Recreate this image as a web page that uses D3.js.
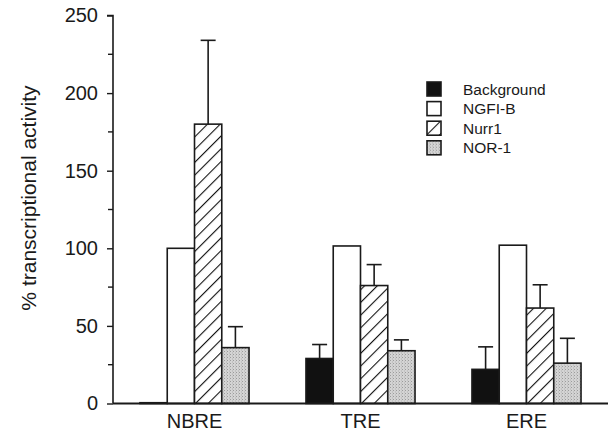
<!DOCTYPE html>
<html>
<head>
<meta charset="utf-8">
<script src="https://cdn.jsdelivr.net/npm/d3@7"></script>
<style>
  body { margin: 0; background: #fff; }
  text { font-family: "Liberation Sans", Arial, sans-serif; fill: #1a1a1a; }
</style>
</head>
<body>
<div id="chart"></div>
<script>
const width = 608;
const height = 434;
const left_margin = 113;

// data
const categories = ["NBRE", "TRE", "ERE"];
const series = ["Background", "NGFI-B", "Nurr1", "NOR-1"];
const background_vals = [0.5, 29, 22];
const background_err = [0, 38, 36.5];
const ngfib_vals = [100, 101.5, 102];
const ngfib_err = [null, null, null];
const nurr1_vals = [180, 76, 61.5];
const nurr1_err = [234, 89.5, 76.5];
const nor1_vals = [36, 34, 26];
const nor1_err = [49.5, 41, 42];
const y_ticks = [0, 50, 100, 150, 200, 250];
const y_minor = [25, 75, 125, 175, 225];

const values = [background_vals, ngfib_vals, nurr1_vals, nor1_vals];
const errors = [background_err, ngfib_err, nurr1_err, nor1_err];
const fills = ["#111", "#fff", "url(#hatch)", "url(#stipple)"];

var svg = d3.select("#chart").append("svg")
    .attr("width", width)
    .attr("height", height);

// patterns for nurr1 and nor-1
var defs = svg.append("defs");
var hatch = defs.append("pattern")
    .attr("id", "hatch")
    .attr("patternUnits", "userSpaceOnUse")
    .attr("width", 9)
    .attr("height", 9)
    .attr("patternTransform", "rotate(45)");
hatch.append("rect").attr("width", 9).attr("height", 9).attr("fill", "#fff");
hatch.append("line")
    .attr("x1", 0).attr("y1", 0).attr("x2", 0).attr("y2", 9)
    .attr("stroke", "#111").attr("stroke-width", 2.2);
var stipple = defs.append("pattern")
    .attr("id", "stipple")
    .attr("patternUnits", "userSpaceOnUse")
    .attr("width", 3)
    .attr("height", 3);
stipple.append("rect").attr("width", 3).attr("height", 3).attr("fill", "#d4d4d4");
stipple.append("rect").attr("x", 0).attr("y", 0).attr("width", 1).attr("height", 1).attr("fill", "#9a9a9a");
stipple.append("rect").attr("x", 2).attr("y", 1.5).attr("width", 1).attr("height", 1).attr("fill", "#b0b0b0");

var y = d3.scaleLinear()
    .domain([0, 250])
    .range([403.5, 15.5]);

var x0 = d3.scaleBand()
    .domain(categories)
    .range([left_margin, width])
    .paddingInner(0.343)
    .paddingOuter(0.1625);

var x1 = d3.scaleBand()
    .domain(series)
    .range([0, x0.bandwidth()]);

// y axis with minor ticks
var yAxis = d3.axisLeft(y)
    .tickValues(y_ticks)
    .tickSize(6)
    .tickPadding(9);
var gy = svg.append("g")
    .attr("transform", "translate(" + left_margin + ",0)")
    .call(yAxis);
gy.select(".domain").attr("stroke", "#1a1a1a").attr("stroke-width", 1.6).attr("d", "M-6," + y(250) + "H0V" + y(0));
gy.selectAll(".tick line").attr("stroke", "#1a1a1a").attr("stroke-width", 1.4);
gy.selectAll(".tick text")
    .style("font-size", "20px")
    .attr("fill", "#1a1a1a");
gy.selectAll(".minor")
    .data(y_minor)
    .enter()
    .append("line")
    .attr("x1", -5)
    .attr("x2", 0)
    .attr("y1", d => y(d))
    .attr("y2", d => y(d))
    .attr("stroke", "#1a1a1a")
    .attr("stroke-width", 1.4);

svg.append("text")
    .attr("transform", "translate(36," + 198 + ") rotate(-90)")
    .attr("text-anchor", "middle")
    .style("font-size", "21px")
    .text("% transcriptional activity");

// bars
var groups = svg.selectAll(".grp")
    .data(categories)
    .enter()
    .append("g")
    .attr("transform", d => "translate(" + x0(d) + ",0)");

series.forEach((s, si) => {
    groups.append("rect")
        .attr("x", x1(s))
        .attr("width", x1.bandwidth())
        .attr("y", (d, i) => y(values[si][i]))
        .attr("height", (d, i) => y(0) - y(values[si][i]))
        .attr("fill", fills[si])
        .attr("stroke", "#1a1a1a")
        .attr("stroke-width", 1.6);

    //error bars
    groups.filter((d, i) => errors[si][i] && errors[si][i] > values[si][i])
        .each(function(d) {
            var i = categories.indexOf(d);
            var cx = x1(s) + x1.bandwidth() / 2;
            var g = d3.select(this);
            g.append("line")
                .attr("x1", cx).attr("x2", cx)
                .attr("y1", y(values[si][i])).attr("y2", y(errors[si][i]))
                .attr("stroke", "#1a1a1a").attr("stroke-width", 1.6);
            g.append("line")
                .attr("x1", cx - 7.5).attr("x2", cx + 7.5)
                .attr("y1", y(errors[si][i])).attr("y2", y(errors[si][i]))
                .attr("stroke", "#1a1a1a").attr("stroke-width", 1.6);
        });
});

// baseline
svg.append("line")
    .attr("x1", left_margin)
    .attr("x2", width)
    .attr("y1", y(0))
    .attr("y2", y(0))
    .attr("stroke", "#1a1a1a")
    .attr("stroke-width", 2);

// category labels
svg.selectAll(".cat")
    .data(categories)
    .enter()
    .append("text")
    .attr("x", d => x0(d) + x0.bandwidth() / 2)
    .attr("y", 428)
    .attr("text-anchor", "middle")
    .style("font-size", "20px")
    .text(d => d);

// legend
var legend = svg.append("g")
    .attr("transform", "translate(427,82)");
var item = legend.selectAll("g")
    .data(series)
    .enter()
    .append("g")
    .attr("transform", (d, i) => "translate(0," + (i * 19.6) + ")");
item.append("rect")
    .attr("width", 14)
    .attr("height", 14)
    .attr("fill", (d, i) => fills[i])
    .attr("stroke", "#1a1a1a")
    .attr("stroke-width", 1.6);
item.append("text")
    .attr("x", 36)
    .attr("y", 12.5)
    .style("font-size", "15.5px")
    .text(d => d);
</script>
</body>
</html>
